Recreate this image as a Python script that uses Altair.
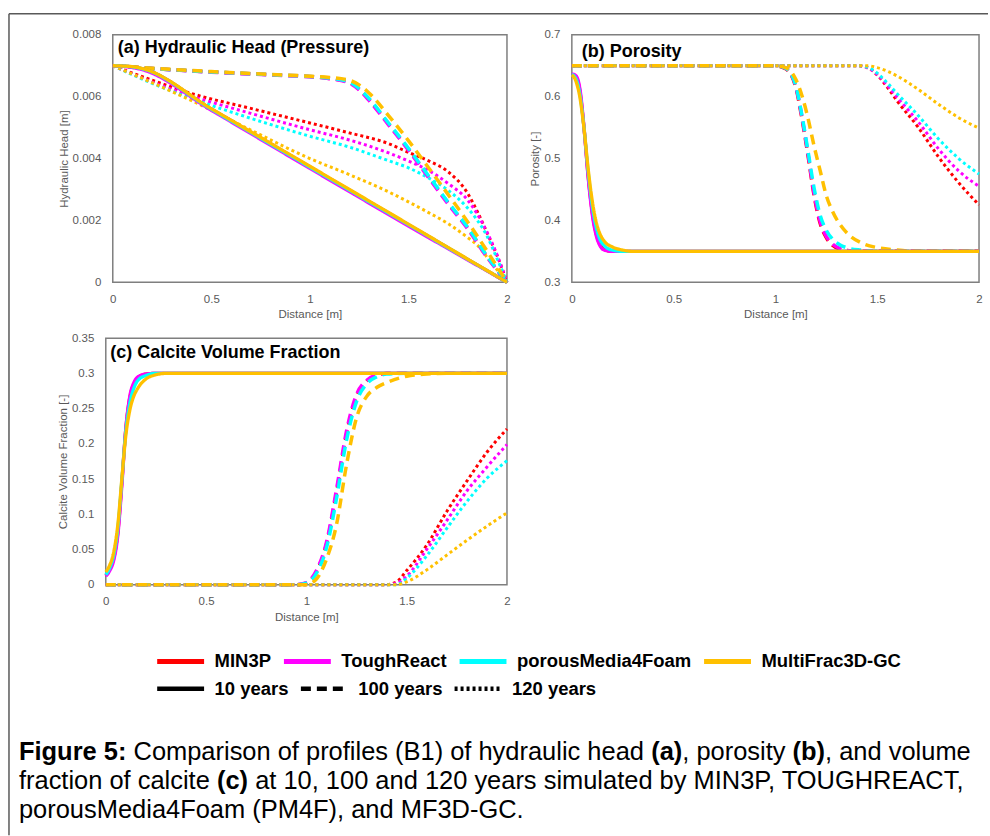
import altair as alt
import pandas as pd

FONT = "Liberation Sans"
MODELS = ["MIN3P", "ToughReact", "porousMedia4Foam", "MultiFrac3D-GC"]
COLORS = ["#FF0000", "#FF00FF", "#00FFFF", "#FFC000"]
PERIODS = ["10 years", "100 years", "120 years"]

# ---------------- (a) Hydraulic head [m] ----------------
HEAD_X_10 = [0, 0.05, 0.1, 0.15, 0.5, 1.0, 1.5, 2.0]
HEAD_10 = {
    "MIN3P":            [0.00700, 0.00699, 0.00696, 0.00690, 0.00560, 0.00373, 0.00186, 0.0],
    "ToughReact":       [0.00700, 0.00698, 0.00694, 0.00687, 0.00556, 0.00368, 0.00182, 0.0],
    "porousMedia4Foam": [0.00700, 0.00699, 0.00696, 0.00690, 0.00559, 0.00372, 0.00186, 0.0],
    "MultiFrac3D-GC":   [0.00700, 0.00699, 0.00697, 0.00691, 0.00561, 0.00375, 0.00188, 0.0],
}
HEAD_X_100 = [0, 0.2, 0.5, 0.8, 1.0, 1.1, 1.2, 1.25, 1.3, 1.4, 1.5, 1.6, 1.7, 1.8, 1.9, 2.0]
HEAD_100 = {
    "MIN3P":            [0.00700, 0.00691, 0.00680, 0.00671, 0.00665, 0.00659, 0.00646, 0.00624, 0.00591, 0.00511, 0.00430, 0.00343, 0.00257, 0.00176, 0.00082, 0.0],
    "ToughReact":       [0.00700, 0.00691, 0.00679, 0.00670, 0.00664, 0.00658, 0.00644, 0.00622, 0.00588, 0.00508, 0.00427, 0.00340, 0.00254, 0.00173, 0.00080, 0.0],
    "porousMedia4Foam": [0.00700, 0.00691, 0.00680, 0.00671, 0.00665, 0.00660, 0.00647, 0.00626, 0.00594, 0.00514, 0.00433, 0.00346, 0.00260, 0.00178, 0.00084, 0.0],
    "MultiFrac3D-GC":   [0.00700, 0.00692, 0.00681, 0.00672, 0.00666, 0.00662, 0.00653, 0.00638, 0.00612, 0.00538, 0.00458, 0.00372, 0.00285, 0.00196, 0.00100, 0.0],
}
HEAD_X_120 = [0, 0.2, 0.4, 0.7, 1.0, 1.2, 1.4, 1.5, 1.6, 1.7, 1.8, 1.85, 1.9, 1.95, 2.0]
HEAD_120 = {
    "MIN3P":            [0.00700, 0.00653, 0.00610, 0.00562, 0.00515, 0.00483, 0.00448, 0.00420, 0.00393, 0.00358, 0.00288, 0.00228, 0.00158, 0.00086, 0.0],
    "ToughReact":       [0.00700, 0.00647, 0.00602, 0.00546, 0.00493, 0.00460, 0.00418, 0.00392, 0.00362, 0.00320, 0.00266, 0.00220, 0.00160, 0.00088, 0.0],
    "porousMedia4Foam": [0.00700, 0.00643, 0.00594, 0.00530, 0.00472, 0.00437, 0.00393, 0.00370, 0.00338, 0.00298, 0.00240, 0.00200, 0.00148, 0.00076, 0.0],
    "MultiFrac3D-GC":   [0.00700, 0.00645, 0.00587, 0.00492, 0.00400, 0.00348, 0.00292, 0.00260, 0.00226, 0.00190, 0.00145, 0.00120, 0.00080, 0.00040, 0.0],
}

# ---------------- (b) Porosity [-] ----------------
PORO_X_10 = [0, 0.02, 0.04, 0.06, 0.08, 0.1, 0.12, 0.14, 0.16, 0.2, 0.25, 0.3, 2.0]
PORO_10 = {
    "MIN3P":            [0.636, 0.632, 0.608, 0.548, 0.472, 0.414, 0.378, 0.360, 0.353, 0.350, 0.350, 0.350, 0.350],
    "ToughReact":       [0.637, 0.634, 0.612, 0.550, 0.470, 0.410, 0.375, 0.358, 0.352, 0.350, 0.350, 0.350, 0.350],
    "porousMedia4Foam": [0.636, 0.629, 0.603, 0.549, 0.479, 0.424, 0.388, 0.368, 0.359, 0.352, 0.350, 0.350, 0.350],
    "MultiFrac3D-GC":   [0.635, 0.625, 0.598, 0.548, 0.484, 0.432, 0.397, 0.377, 0.366, 0.357, 0.352, 0.350, 0.350],
}
PORO_X_100 = [0, 1.0, 1.05, 1.1, 1.13, 1.16, 1.19, 1.22, 1.25, 1.28, 1.32, 1.36, 1.42, 1.5, 1.6, 1.7, 2.0]
PORO_100 = {
    "MIN3P":            [0.65, 0.65, 0.645, 0.615, 0.565, 0.505, 0.440, 0.395, 0.372, 0.360, 0.353, 0.351, 0.350, 0.350, 0.350, 0.350, 0.350],
    "ToughReact":       [0.65, 0.65, 0.646, 0.617, 0.568, 0.508, 0.443, 0.398, 0.374, 0.362, 0.354, 0.351, 0.350, 0.350, 0.350, 0.350, 0.350],
    "porousMedia4Foam": [0.65, 0.65, 0.646, 0.618, 0.570, 0.512, 0.452, 0.408, 0.384, 0.370, 0.360, 0.355, 0.352, 0.350, 0.350, 0.350, 0.350],
    "MultiFrac3D-GC":   [0.65, 0.65, 0.647, 0.628, 0.602, 0.565, 0.520, 0.480, 0.440, 0.415, 0.392, 0.377, 0.364, 0.356, 0.352, 0.350, 0.350],
}
PORO_X_120 = [0, 1.4, 1.45, 1.5, 1.55, 1.6, 1.7, 1.8, 1.9, 2.0]
PORO_120 = {
    "MIN3P":            [0.65, 0.65, 0.647, 0.635, 0.615, 0.592, 0.551, 0.503, 0.461, 0.425],
    "ToughReact":       [0.65, 0.65, 0.647, 0.636, 0.618, 0.598, 0.560, 0.516, 0.480, 0.455],
    "porousMedia4Foam": [0.65, 0.65, 0.648, 0.638, 0.622, 0.604, 0.570, 0.532, 0.500, 0.475],
    "MultiFrac3D-GC":   [0.65, 0.65, 0.650, 0.647, 0.641, 0.633, 0.612, 0.588, 0.566, 0.549],
}

# ---------------- (c) Calcite volume fraction [-] ----------------
CALC_X_10 = [0, 0.02, 0.04, 0.06, 0.08, 0.1, 0.12, 0.14, 0.16, 0.2, 0.25, 0.3, 2.0]
CALC_10 = {
    "MIN3P":            [0.013, 0.022, 0.038, 0.074, 0.145, 0.222, 0.266, 0.285, 0.294, 0.299, 0.300, 0.300, 0.300],
    "ToughReact":       [0.012, 0.020, 0.035, 0.070, 0.140, 0.222, 0.268, 0.287, 0.295, 0.299, 0.300, 0.300, 0.300],
    "porousMedia4Foam": [0.014, 0.024, 0.042, 0.080, 0.148, 0.218, 0.258, 0.279, 0.290, 0.297, 0.300, 0.300, 0.300],
    "MultiFrac3D-GC":   [0.018, 0.028, 0.047, 0.085, 0.150, 0.212, 0.248, 0.268, 0.279, 0.292, 0.298, 0.300, 0.300],
}
CALC_X_100 = [0, 0.95, 1.0, 1.05, 1.1, 1.15, 1.2, 1.25, 1.3, 1.35, 1.4, 1.5, 1.6, 1.7, 2.0]
CALC_100 = {
    "MIN3P":            [0, 0, 0.002, 0.018, 0.057, 0.130, 0.213, 0.267, 0.289, 0.297, 0.300, 0.300, 0.300, 0.300, 0.300],
    "ToughReact":       [0, 0, 0.003, 0.020, 0.060, 0.135, 0.218, 0.270, 0.290, 0.298, 0.300, 0.300, 0.300, 0.300, 0.300],
    "porousMedia4Foam": [0, 0, 0.002, 0.016, 0.052, 0.122, 0.205, 0.260, 0.285, 0.295, 0.299, 0.300, 0.300, 0.300, 0.300],
    "MultiFrac3D-GC":   [0, 0, 0.000, 0.008, 0.036, 0.085, 0.170, 0.237, 0.267, 0.280, 0.287, 0.296, 0.299, 0.300, 0.300],
}
CALC_X_120 = [0, 1.4, 1.45, 1.5, 1.6, 1.7, 1.8, 1.9, 2.0]
CALC_120 = {
    "MIN3P":            [0, 0, 0.004, 0.020, 0.056, 0.104, 0.147, 0.188, 0.221],
    "ToughReact":       [0, 0, 0.002, 0.012, 0.050, 0.091, 0.133, 0.167, 0.199],
    "porousMedia4Foam": [0, 0, 0.000, 0.009, 0.041, 0.080, 0.118, 0.151, 0.176],
    "MultiFrac3D-GC":   [0, 0, 0.000, 0.004, 0.021, 0.042, 0.063, 0.083, 0.102],
}

SERIES = [
    ("a", "10 years", HEAD_X_10, HEAD_10), ("a", "100 years", HEAD_X_100, HEAD_100), ("a", "120 years", HEAD_X_120, HEAD_120),
    ("b", "10 years", PORO_X_10, PORO_10), ("b", "100 years", PORO_X_100, PORO_100), ("b", "120 years", PORO_X_120, PORO_120),
    ("c", "10 years", CALC_X_10, CALC_10), ("c", "100 years", CALC_X_100, CALC_100), ("c", "120 years", CALC_X_120, CALC_120),
]
rows = []
for panel_key, period, xs, table in SERIES:
    for model in MODELS:
        for xv, yv in zip(xs, table[model]):
            rows.append({"panel": panel_key, "period": period, "model": model, "dist": xv, "val": yv})
df = pd.DataFrame(rows)

LEGEND_COMMON = dict(
    title=None, orient="none", direction="horizontal", symbolType="stroke",
    symbolSize=2209, labelFont=FONT, labelFontSize=18.5, labelFontWeight="bold",
    labelColor="black", labelOffset=8, columnPadding=2, padding=0, labelLimit=400,
    symbolOpacity=1,
)
COLOR_ENC = alt.Color(
    "model:N", scale=alt.Scale(domain=MODELS, range=COLORS),
    legend=alt.Legend(columns=4, legendX=49, legendY=602, symbolStrokeWidth=5, **LEGEND_COMMON),
)
DASH_ENC = alt.StrokeDash(
    "period:N", scale=alt.Scale(domain=PERIODS, range=[[1, 0], [10, 6], [3, 3]]),
    legend=alt.Legend(columns=3, legendX=49, legendY=629, symbolStrokeWidth=4.5,
                      symbolStrokeColor="black", **LEGEND_COMMON),
)

WIDTHS = {"120 years": 3, "100 years": 3.5, "10 years": 3.3}
BOX = "#7f7f7f"
dummy = pd.DataFrame({"d": [0]})


def panel(key, ydom, yvals, ytitle, title, tx, ty, w, h, inset=0):
    # inset: left margin (px) inside the grid cell before the plot area starts
    x_scale = alt.Scale(domain=[0, 2], nice=False)
    if inset:
        x_scale = alt.Scale(domain=[0, 2], nice=False, range=[inset, w])
    x_enc = alt.X("dist:Q", scale=x_scale,
                  axis=alt.Axis(values=[0, 0.5, 1, 1.5, 2], title="Distance [m]", format="~g"))
    y_axis = alt.Axis(values=yvals, title=ytitle, format="~g")
    if inset:
        y_axis = alt.Axis(values=yvals, title=ytitle, format="~g", offset=-inset)
    y_enc = alt.Y("val:Q", scale=alt.Scale(domain=ydom, nice=False, zero=False), axis=y_axis)
    layers = []
    if inset:
        layers.append(
            alt.Chart(dummy).mark_rect(fillOpacity=0, stroke=BOX, strokeWidth=1.5).encode(
                x=alt.value(inset), x2=alt.value(w), y=alt.value(0), y2=alt.value(h))
        )
    for per in ["120 years", "100 years", "10 years"]:
        for m in MODELS:
            sub = df[(df.panel == key) & (df.period == per) & (df.model == m)]
            layers.append(
                alt.Chart(sub).mark_line(strokeWidth=WIDTHS[per], interpolate="monotone")
                .encode(x=x_enc, y=y_enc, color=COLOR_ENC, strokeDash=DASH_ENC)
            )
    ttl = alt.Chart(pd.DataFrame({"t": [title]})).mark_text(
        align="left", baseline="middle", font=FONT, fontSize=18, fontWeight="bold", color="black"
    ).encode(x=alt.value(tx + inset), y=alt.value(ty), text="t:N")
    out = alt.layer(*layers, ttl).properties(width=w, height=h)
    if inset:
        out = out.properties(view=alt.ViewBackground(stroke="transparent"))
    return out


chart_a = panel("a", [0, 0.008], [0, 0.002, 0.004, 0.006, 0.008], "Hydraulic Head [m]",
                "(a) Hydraulic Head (Pressure)", 5, 13, 402, 248, inset=7)
chart_b = panel("b", [0.3, 0.7], [0.3, 0.4, 0.5, 0.6, 0.7], "Porosity [-]",
                "(b) Porosity", 10, 17, 408, 248)
chart_c = panel("c", [0, 0.35], [0, 0.05, 0.1, 0.15, 0.2, 0.25, 0.3, 0.35], "Calcite Volume Fraction [-]",
                "(c) Calcite Volume Fraction", 4.5, 15, 402, 247)

# ---------------- caption (Arial/Liberation Sans metrics) ----------------
CAP_SIZE = 25.5
REG_W = {" ": 278, "(": 333, ")": 333, ",": 278, "-": 333, ".": 278, ":": 278,
         "A": 667, "B": 667, "C": 722, "D": 722, "E": 667, "F": 611, "G": 778, "H": 722, "I": 278,
         "M": 833, "N": 722, "O": 778, "P": 667, "R": 722, "T": 611, "U": 722,
         "a": 556, "b": 556, "c": 500, "d": 556, "e": 556, "f": 278, "g": 556, "h": 556, "i": 222,
         "l": 222, "m": 833, "n": 556, "o": 556, "p": 556, "r": 333, "s": 500, "t": 278, "u": 556,
         "v": 500, "y": 500}
BOLD_W = {" ": 278, "(": 333, ")": 333, ":": 333, "F": 611, "a": 556, "b": 611, "c": 556,
          "e": 556, "g": 611, "i": 278, "r": 389, "u": 611}


def tw(s, bold):
    table = BOLD_W if bold else REG_W
    return sum(table.get(ch, 556) for ch in s) * CAP_SIZE / 1000.0


CAPTION_LINES = [
    [("Figure 5:", True), (" Comparison of profiles (B1) of hydraulic head ", False), ("(a)", True),
     (", porosity ", False), ("(b)", True), (", and volume", False)],
    [("fraction of calcite ", False), ("(c)", True),
     (" at 10, 100 and 120 years simulated by MIN3P, TOUGHREACT,", False)],
    [("porousMedia4Foam (PM4F), and MF3D-GC.", False)],
]
# caption cell origin sits at page (572, 337)
CAP_X0 = -554
CAP_Y = [415, 444, 473]
seg_rows = []
for line, yy in zip(CAPTION_LINES, CAP_Y):
    cx = CAP_X0
    for seg, bold in line:
        lead = len(seg) - len(seg.lstrip(" "))
        seg_rows.append({"t": seg.strip(), "px": cx + tw(" " * lead, bold), "py": yy, "bold": bold})
        cx += tw(seg, bold)
seg_df = pd.DataFrame(seg_rows)

cap_layers = []
for is_bold in [False, True]:
    cap_layers.append(
        alt.Chart(seg_df[seg_df.bold == is_bold]).mark_text(
            align="left", baseline="middle", font=FONT, fontSize=CAP_SIZE,
            fontWeight="bold" if is_bold else "normal", color="black"
        ).encode(x=alt.X("px:Q", scale=None), y=alt.Y("py:Q", scale=None), text="t:N")
    )
frame_top = alt.Chart(dummy).mark_rule(color="#595959", strokeWidth=1.5).encode(
    x=alt.value(-564), x2=alt.value(417), y=alt.value(-325))
frame_left = alt.Chart(dummy).mark_rule(color="#595959", strokeWidth=1.5).encode(
    x=alt.value(-564), y=alt.value(-325), y2=alt.value(498))
caption = alt.layer(*cap_layers, frame_top, frame_left).properties(
    width=1, height=1, view=alt.ViewBackground(stroke="transparent"))

chart = alt.concat(
    chart_a, chart_b, chart_c, caption,
    columns=2, spacing={"row": 56, "column": 65}, bounds="flush",
).resolve_scale(
    x="independent", y="independent"
).properties(
    padding={"left": 7, "top": 11, "right": 0, "bottom": 0}
).configure_view(
    stroke=BOX, strokeWidth=1.5
).configure_axis(
    labelFont=FONT, labelFontSize=11.5, labelColor="#595959", titleFont=FONT, titleFontSize=11.5,
    titleFontWeight="normal", titleColor="#595959", ticks=False, domain=False, grid=False,
    labelFlush=False, labelOverlap=False
).configure_axisX(
    labelPadding=11, titlePadding=4
).configure_axisY(
    labelPadding=12, titlePadding=3
)

chart.save("out.html", embed_options={"renderer": "svg", "actions": False})
